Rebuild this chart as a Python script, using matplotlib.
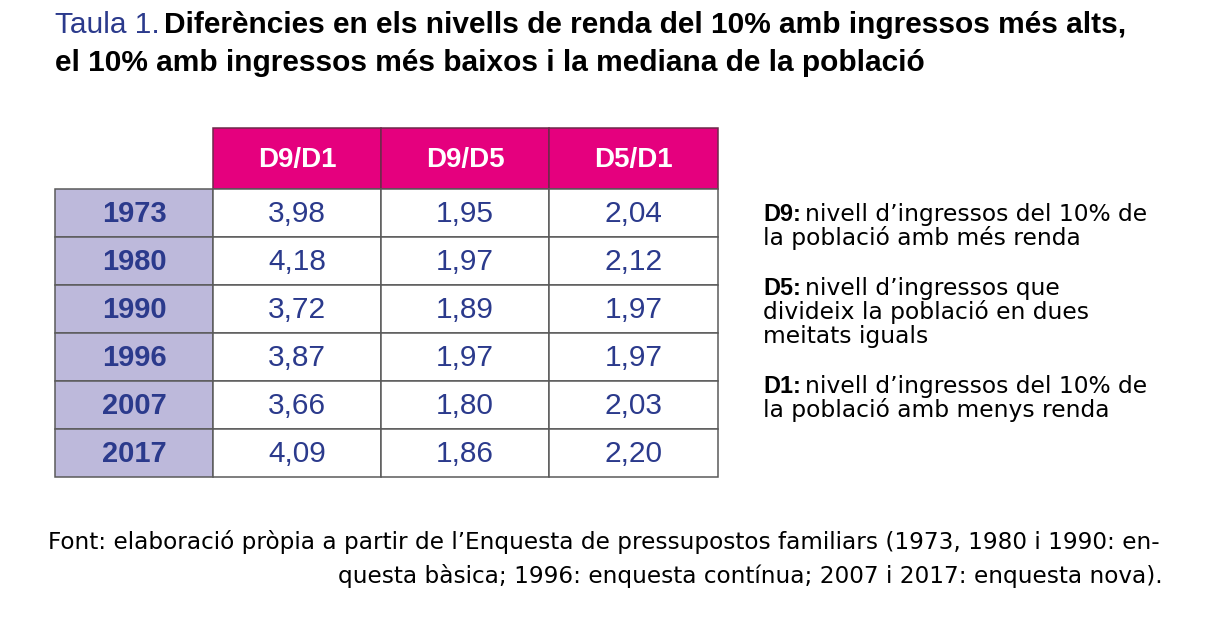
import matplotlib
matplotlib.use("Agg")
import matplotlib.pyplot as plt
from matplotlib.patches import Rectangle

title_lead = "Taula 1."
title_lines = ["Diferències en els nivells de renda del 10% amb ingressos més alts,",
               "el 10% amb ingressos més baixos i la mediana de la població"]
columns = ["D9/D1", "D9/D5", "D5/D1"]
years = ["1973", "1980", "1990", "1996", "2007", "2017"]
d9_d1 = [3.98, 4.18, 3.72, 3.87, 3.66, 4.09]
d9_d5 = [1.95, 1.97, 1.89, 1.97, 1.80, 1.86]
d5_d1 = [2.04, 2.12, 1.97, 1.97, 2.03, 2.20]
notes = [("D9:", ["nivell d’ingressos del 10% de", "la població amb més renda"]),
         ("D5:", ["nivell d’ingressos que", "divideix la població en dues", "meitats iguals"]),
         ("D1:", ["nivell d’ingressos del 10% de", "la població amb menys renda"])]
source = ["Font: elaboració pròpia a partir de l’Enquesta de pressupostos familiars (1973, 1980 i 1990: en-",
          "questa bàsica; 1996: enquesta contínua; 2007 i 2017: enquesta nova)."]

PINK = "#e5007e"
LAVENDER = "#bdb9db"
BLUE = "#2b3a8c"
LINE = "#5a5a5a"
HEAD = ["Liberation Sans", "DejaVu Sans"]
BODY = ["DejaVu Sans"]


def text_after(ax, r, x, y, first, rest, kw1, kw2, gap=5):
    # two runs of text on one baseline
    t = ax.text(x, y, first, va="baseline", ha="left", **kw1)
    bb = t.get_window_extent(renderer=r)
    inv = ax.transData.inverted()
    x_end = inv.transform((bb.x1, bb.y0))[0]
    ax.text(x_end + gap, y, rest, va="baseline", ha="left", **kw2)


def main():
    fig = plt.figure(figsize=(12.32, 6.17), dpi=100)
    ax = fig.add_axes([0, 0, 1, 1])
    ax.set_xlim(0, 1232)
    ax.set_ylim(617, 0)
    ax.axis("off")
    r = fig.canvas.get_renderer()

    # title
    text_after(ax, r, 55, 33, title_lead, title_lines[0],
               dict(fontsize=21.5, color=BLUE, family=HEAD),
               dict(fontsize=21.5, color="black", family=HEAD, fontweight="bold"), gap=4)
    ax.text(55, 71, title_lines[1], va="baseline", fontsize=21.5, color="black",
            family=HEAD, fontweight="bold")

    # table
    x_edges = [55, 213, 381, 549, 718]
    y_head = 128
    y0 = 189
    row_h = 48
    values = [d9_d1, d9_d5, d5_d1]

    for j, name in enumerate(columns):
        xa, xb = x_edges[j + 1], x_edges[j + 2]
        ax.add_patch(Rectangle((xa, y_head), xb - xa, y0 - y_head, facecolor=PINK,
                               edgecolor="#6e2a4a", lw=1.1))
        ax.text((xa + xb) / 2, (y_head + y0) / 2 + 1, name, ha="center", va="center",
                fontsize=20, color="white", fontweight="bold", family=HEAD)

    for i, yr in enumerate(years):
        ya = y0 + i * row_h
        ax.add_patch(Rectangle((x_edges[0], ya), x_edges[1] - x_edges[0], row_h,
                               facecolor=LAVENDER, edgecolor=LINE, lw=1.1))
        ax.text((x_edges[0] + x_edges[1]) / 2, ya + row_h / 2 + 1, yr, ha="center",
                va="center", fontsize=21, color=BLUE, fontweight="bold", family=HEAD)
        for j in range(3):
            xa, xb = x_edges[j + 1], x_edges[j + 2]
            ax.add_patch(Rectangle((xa, ya), xb - xa, row_h, facecolor="white",
                                   edgecolor=LINE, lw=1.1))
            label = f"{values[j][i]:.2f}".replace(".", ",")
            ax.text((xa + xb) / 2, ya + row_h / 2 + 1, label, ha="center", va="center",
                    fontsize=21.5, color=BLUE, family=HEAD)

    # notes on the right
    y = 221
    for key, lines in notes:
        text_after(ax, r, 763, y, key, lines[0],
                   dict(fontsize=16.8, color="black", family=HEAD, fontweight="bold"),
                   dict(fontsize=16.8, color="black", family=BODY), gap=4)
        for k, ln in enumerate(lines[1:]):
            ax.text(763, y + 24 * (k + 1), ln, va="baseline", fontsize=16.8,
                    color="black", family=BODY)
        y += 24 * (len(lines) - 1) + 50

    # source
    ax.text(48, 549, source[0], va="baseline", ha="left", fontsize=16.7,
            color="black", family=BODY)
    ax.text(1163, 583, source[1], va="baseline", ha="right", fontsize=16.7,
            color="black", family=BODY)

    fig.savefig("out.png", dpi=100, facecolor="white")


if __name__ == "__main__":
    main()
